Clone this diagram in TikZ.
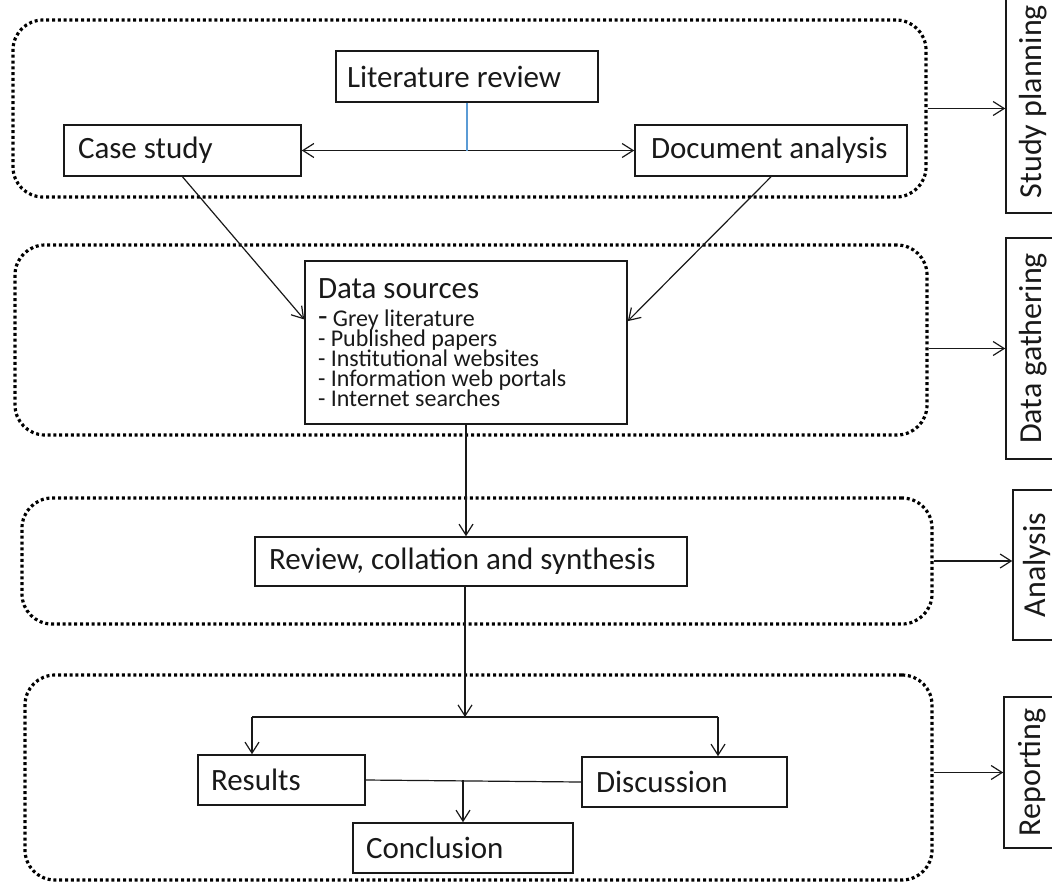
\documentclass[tikz,border=0pt]{standalone}
\usepackage{fontspec}
\setmainfont{Carlito}
\usetikzlibrary{arrows.meta,calc}
\definecolor{ink}{RGB}{25,25,25}
\definecolor{bluelink}{RGB}{91,155,213}
\newcommand{\natsp}{\spaceskip=0pt\xspaceskip=0pt\relax}
\tikzset{
  box/.style={draw=ink, line width=0.8pt, inner ysep=0pt, text=ink,
    font=\fontsize{15.5}{18}\selectfont},
  stage/.style={draw=black, line width=1.6pt, dash pattern=on 1.5pt off 1.4pt,
    rounded corners=15pt, inner sep=0pt},
  lbl/.style={draw=ink, line width=0.8pt, inner sep=0pt, text=ink,
    font=\fontsize{16}{19}\selectfont},
  conn/.style={draw=ink, line width=0.6pt},
  arr/.style={conn, -{Straight Barb[length=5.5pt,width=7pt]}},
  darr/.style={conn, {Straight Barb[length=5.5pt,width=7pt]}-{Straight Barb[length=5.5pt,width=7pt]}},
}
\begin{document}
\begin{tikzpicture}[x=0.5pt,y=-0.5pt]
\useasboundingbox (0,0) rectangle (1052,883);
\clip (0,0) rectangle (1052,883);

% stage frames
\node[stage, minimum width=456.5pt, minimum height=88.5pt] (s1) at (469.5,108.5) {};
\node[stage, minimum width=456pt, minimum height=95pt] (s2) at (471,340) {};
\node[stage, minimum width=455pt, minimum height=63pt] (s3) at (477,561) {};
\node[stage, minimum width=453.5pt, minimum height=102.5pt] (s4) at (478.5,777.5) {};

% stage labels
\node[lbl, minimum width=27pt, minimum height=111.5pt] (l1) at (1033,101.5) {\rotatebox{90}{Study planning}};
\node[lbl, minimum width=27pt, minimum height=110.5pt] (l2) at (1033,348.5) {\rotatebox{90}{Data gathering}};
\node[lbl, minimum width=24pt, minimum height=75pt] (l3) at (1037,565) {\rotatebox{90}{Analysis}};
\node[lbl, minimum width=28pt, minimum height=75.5pt] (l4) at (1032,772.5) {\rotatebox{90}{Reporting}};

% boxes
\node[box, inner xsep=5.5pt, text width=120pt, minimum height=25.5pt] (lit) at (467,76.5) {\natsp\mbox{Literature review}};
\node[box, inner xsep=7pt, text width=104.5pt, minimum height=25.5pt] (case) at (182.5,150.5) {\natsp\mbox{Case study}};
\node[box, inner xsep=8pt, text width=120pt, minimum height=25.5pt] (doc) at (771,150.5) {\natsp\mbox{Document analysis}};
\node[box, inner xsep=6.5pt, text width=148pt, minimum height=81.5pt] (data) at (466,342.5)
  {\natsp{\fontsize{15.5}{18}\selectfont Data sources\par}\vspace{4pt}%
   {\fontsize{12}{10}\selectfont\lineskiplimit=-10pt\lineskip=0pt
   {\fontsize{15.5}{10}\selectfont -} Grey literature\\
   - Published papers\\
   - Institutional websites\\
   - Information web portals\\
   - Internet searches\par}};
\node[box, inner xsep=7pt, text width=202pt, minimum height=24.5pt] (review) at (471,561.5) {\natsp\mbox{Review, collation and synthesis}};
\node[box, inner xsep=6.5pt, text width=70.5pt, minimum height=25pt] (results) at (281.5,780) {\natsp\mbox{Results}};
\node[box, inner xsep=7pt, text width=88.5pt, minimum height=25pt] (discussion) at (684.5,782) {\natsp\mbox{Discussion}};
\node[box, inner xsep=6.5pt, text width=97pt, minimum height=25pt] (conclusion) at (463,848) {\natsp\mbox{Conclusion}};

% connectors, top stage
\draw[darr] (case.east) -- (doc.west);
\draw[draw=bluelink, line width=0.6pt] (lit.south) -- (lit.south |- case.east);
\draw[arr] (case.south) -- ($(data.north west)!0.36!(data.south west)$);
\draw[arr] (doc.south) -- ($(data.north east)!0.37!(data.south east)$);

% data -> review
\draw[arr] (data.south) -- (data.south |- review.north);

% review -> fork
\coordinate (fork) at (465,717);
\coordinate (bl) at (252,717);
\coordinate (br) at (718,717);
\draw[arr] (review.south -| fork) -- (fork);
\draw[conn] (bl) -- (br);
\draw[arr] (bl) -- (bl |- results.north);
\draw[arr] (br) -- (br |- discussion.north);

% results / discussion -> conclusion
\draw[conn] (results.east) -- (discussion.west);
\draw[arr] (conclusion.north |- results.east) -- (conclusion.north);

% stage -> label arrows
\draw[arr] (s1.east) -- (s1.east -| l1.west);
\draw[arr] (l2.west -| s2.east) -- (l2.west);
\draw[arr] (s3.east) -- (s3.east -| l3.west);
\draw[arr] (l4.west -| s4.east) -- (l4.west);
\end{tikzpicture}
\end{document}
